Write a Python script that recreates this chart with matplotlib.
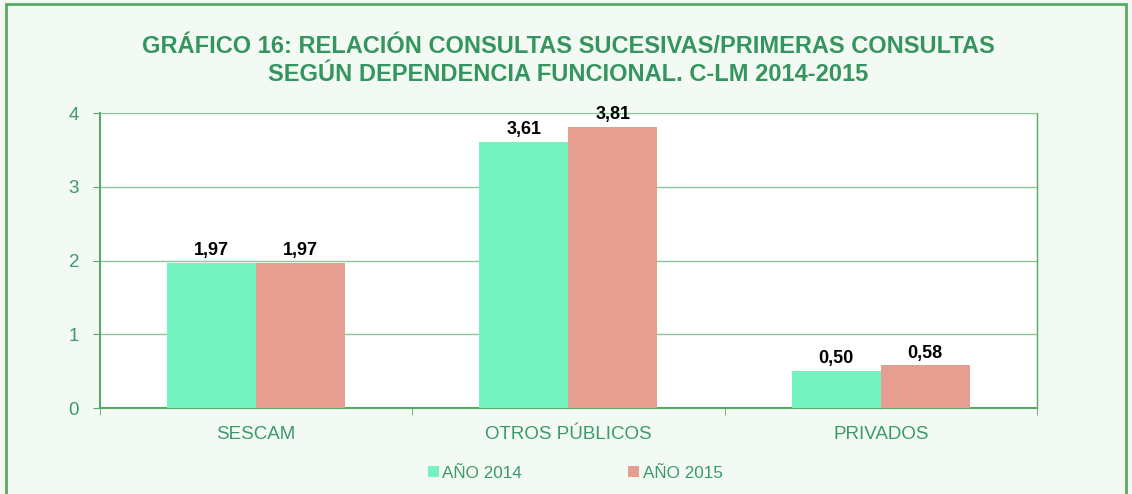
import matplotlib.pyplot as plt
import numpy as np
from matplotlib.patches import Rectangle

plt.rcParams['font.family'] = ['Liberation Sans', 'DejaVu Sans']

categorias = ['SESCAM', 'OTROS PÚBLICOS', 'PRIVADOS']
series = ['AÑO 2014', 'AÑO 2015']
valores_2014 = [1.97, 3.61, 0.50]
valores_2015 = [1.97, 3.81, 0.58]

verde_txt = '#3a9a6a'
verde_linea = '#5aa865'
colores = ['#74f2c0', '#e59e90']

fig = plt.figure(figsize=(11.32, 4.94), dpi=100)
fig.patch.set_facecolor('#f3faf4')
fig.patches.append(Rectangle((0.005, -0.05), 0.99, 1.042, transform=fig.transFigure,
                             fill=False, edgecolor=verde_linea, linewidth=2))

ax = fig.add_axes([0.0883, 0.174, 0.8277, 0.597])
ax.set_facecolor('white')

x = np.arange(len(categorias))
w = 0.285
b1 = ax.bar(x - w / 2, valores_2014, w, color=colores[0], label=series[0], zorder=3)
b2 = ax.bar(x + w / 2, valores_2015, w, color=colores[1], label=series[1], zorder=3)

for barras in (b1, b2):
    for r in barras:
        ax.text(r.get_x() + r.get_width() / 2, r.get_height() + 0.05,
                f'{r.get_height():.2f}'.replace('.', ','), ha='center', va='bottom',
                fontsize=13, fontweight='bold', color='black')

ax.set_xlim(-0.5, 2.5)
ax.set_ylim(0, 4)
ax.set_yticks([0, 1, 2, 3, 4])
ax.grid(axis='y', color='#8cc79a', linewidth=1, zorder=0)
ax.set_xticks(x)
ax.set_xticklabels(categorias)
ax.set_xticks([-0.5, 0.5, 1.5, 2.5], minor=True)
ax.tick_params(axis='x', which='major', length=0, pad=13, labelsize=13.5, labelcolor=verde_txt)
ax.tick_params(axis='x', which='minor', length=5, color=verde_linea, direction='out')
ax.tick_params(axis='y', length=5, color=verde_linea, labelsize=13.5, labelcolor=verde_txt, pad=10)

for lado in ['left', 'bottom', 'right']:
    ax.spines[lado].set_color(verde_linea)
    ax.spines[lado].set_linewidth(1.5)
ax.spines['top'].set_color('#8cc79a')
ax.spines['right'].set_linewidth(1)

fig.text(0.502, 0.878, 'GRÁFICO 16: RELACIÓN CONSULTAS SUCESIVAS/PRIMERAS CONSULTAS\n'
         'SEGÚN DEPENDENCIA FUNCIONAL. C-LM 2014-2015', ha='center', va='center',
         fontsize=17, fontweight='bold', color='#35955f', linespacing=1.25)

fig.legend(handles=[b1, b2], labels=series, loc='center', bbox_to_anchor=(0.508, 0.042),
           ncol=2, frameon=False, fontsize=12.3, labelcolor=verde_txt, handlelength=0.65,
           handleheight=0.65, handletextpad=0.2, columnspacing=6.2)

fig.savefig('out.png', dpi=100, facecolor=fig.get_facecolor())
